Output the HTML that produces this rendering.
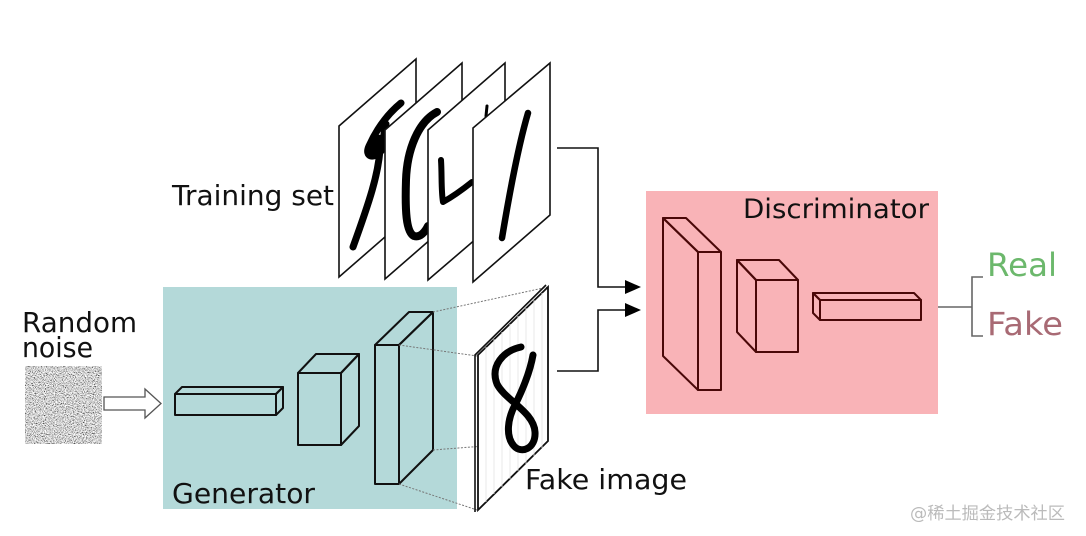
<!DOCTYPE html>
<html>
<head>
<meta charset="utf-8">
<style>
  html,body{margin:0;padding:0;background:#fff;}
  body{width:1086px;height:536px;overflow:hidden;}
  svg{display:block;}
  text{font-family:"DejaVu Sans","Liberation Sans","Noto Sans CJK SC",sans-serif;}
</style>
</head>
<body>
<svg width="1086" height="536" viewBox="0 0 1086 536" xmlns="http://www.w3.org/2000/svg">
  <defs>
    <filter id="noise" x="0" y="0" width="100%" height="100%" filterUnits="objectBoundingBox">
      <feTurbulence type="fractalNoise" baseFrequency="0.9" numOctaves="2" seed="7" result="t"/>
      <feColorMatrix in="t" type="matrix" values="2.4 0 0 0 -0.55  2.4 0 0 0 -0.55  2.4 0 0 0 -0.55  0 0 0 0 1"/>
    </filter>
  </defs>

  <!-- background boxes -->
  <rect x="163" y="287" width="294" height="222" fill="#b4d9d9"/>
  <rect x="646" y="191" width="292" height="223" fill="#f9b3b7"/>

  <!-- Random noise -->
  <text x="22" y="332" font-size="27.5" fill="#111" textLength="115" lengthAdjust="spacingAndGlyphs">Random</text>
  <text x="22" y="357" font-size="27.5" fill="#111" textLength="71" lengthAdjust="spacingAndGlyphs">noise</text>
  <rect x="25" y="366" width="77" height="78" fill="#aaa" filter="url(#noise)"/>

  <!-- hollow arrow -->
  <polygon points="104,397 145,397 145,389 161,403.5 145,418 145,410 104,410" fill="#fff" stroke="#555" stroke-width="1.3"/>

  <!-- Generator blocks -->
  <g fill="none" stroke="#111" stroke-width="2" stroke-linejoin="round">
    <rect x="175" y="394" width="101" height="21"/>
    <polygon points="175,394 182,387 283,387 276,394"/>
    <polygon points="276,394 283,387 283,408 276,415"/>

    <rect x="298" y="373" width="43" height="72"/>
    <polygon points="298,373 316,354 359,354 341,373"/>
    <polygon points="341,373 359,354 359,426 341,445"/>

    <rect x="375" y="345" width="24" height="139"/>
    <polygon points="375,345 409,312 433,312 399,345"/>
    <polygon points="399,345 433,312 433,450 399,484"/>
  </g>

  <!-- dotted projection lines -->
  <g stroke="#777" stroke-width="1" stroke-dasharray="2,1.5" fill="none">
    <line x1="433" y1="312" x2="548" y2="287"/>
    <line x1="399" y1="345" x2="477" y2="356"/>
    <line x1="433" y1="450" x2="548" y2="441"/>
    <line x1="399" y1="484" x2="477" y2="510"/>
  </g>

  <text x="172" y="503" font-size="28" fill="#111" textLength="143" lengthAdjust="spacingAndGlyphs">Generator</text>

  <!-- Fake image panel -->
  <polygon points="478,355 548,287 548,441 478,510" fill="#fff" stroke="#111" stroke-width="1.8"/>
  <g stroke="#e4e4e4" stroke-width="0.8">
    <line x1="486" y1="347" x2="486" y2="502"/>
    <line x1="494" y1="339" x2="494" y2="494"/>
    <line x1="502" y1="332" x2="502" y2="487"/>
    <line x1="510" y1="324" x2="510" y2="479"/>
    <line x1="518" y1="316" x2="518" y2="471"/>
    <line x1="526" y1="308" x2="526" y2="464"/>
    <line x1="534" y1="300" x2="534" y2="456"/>
    <line x1="542" y1="293" x2="542" y2="448"/>
  </g>
  <polyline points="475,512 475,355 546,285" fill="none" stroke="#111" stroke-width="1.6"/>
  <path d="M521 347 C 503 351, 490 366, 497 384 C 505 400, 534 412, 535 432 C 536 449, 521 454, 514 446 C 505 436, 508 418, 515 405 C 522 391, 530 372, 533 355"
        fill="none" stroke="#000" stroke-width="7" stroke-linecap="round" stroke-linejoin="round"/>

  <text x="525" y="489" font-size="27.5" fill="#111" textLength="162" lengthAdjust="spacingAndGlyphs">Fake image</text>

  <!-- Training set panels -->
  <text x="172" y="205" font-size="27.5" fill="#111" textLength="162" lengthAdjust="spacingAndGlyphs">Training set</text>

  <polygon points="339,126 416,59 416,210 339,277" fill="#fff" stroke="#111" stroke-width="1.6"/>
  <path d="M401 103 C 390 112, 378 126, 369 146 C 364 157, 374 160, 382 150 C 384 145, 383 132, 386 124 M 380 150 C 378 175, 370 200, 353 247"
        fill="none" stroke="#000" stroke-width="7" stroke-linecap="round" stroke-linejoin="round"/>
  <ellipse cx="376" cy="147" rx="8" ry="13" fill="#000" transform="rotate(25 376 147)"/>

  <polygon points="385,130 462,63 462,212 385,279" fill="#fff" stroke="#111" stroke-width="1.6"/>
  <path d="M437 112 C 418 122, 407 150, 406 180 C 405 210, 406 232, 414 236 C 420 238, 425 232, 428 226"
        fill="none" stroke="#000" stroke-width="8" stroke-linecap="round" stroke-linejoin="round"/>

  <polygon points="428,130 505,63 505,214 428,280" fill="#fff" stroke="#111" stroke-width="1.6"/>
  <path d="M441 160 C 442 175, 441 190, 443 202 C 452 197, 462 190, 472 182"
        fill="none" stroke="#000" stroke-width="6" stroke-linecap="round" stroke-linejoin="round"/>
  <path d="M487 106 L 486 116" stroke="#000" stroke-width="3" stroke-linecap="round"/>

  <polygon points="473,128 550,63 550,215 473,282" fill="#fff" stroke="#111" stroke-width="1.6"/>
  <path d="M528 113 C 520 140, 510 190, 502 238" fill="none" stroke="#000" stroke-width="6.5" stroke-linecap="round"/>

  <!-- connectors into discriminator -->
  <g fill="none" stroke="#111" stroke-width="1.6">
    <polyline points="557,148 598,148 598,287 628,287"/>
    <polyline points="557,371 598,371 598,310 628,310"/>
  </g>
  <polygon points="625,280 641,287 625,294" fill="#000"/>
  <polygon points="625,303 641,310 625,317" fill="#000"/>

  <!-- Discriminator -->
  <text x="743" y="218" font-size="27" fill="#111" textLength="186" lengthAdjust="spacingAndGlyphs">Discriminator</text>

  <g fill="none" stroke="#4a0808" stroke-width="2" stroke-linejoin="round">
    <rect x="698" y="252" width="23" height="138"/>
    <polygon points="698,252 663,218 686,218 721,252"/>
    <polygon points="698,252 663,218 663,356 698,390"/>

    <rect x="756" y="280" width="42" height="72"/>
    <polygon points="756,280 737,260 779,260 798,280"/>
    <polygon points="756,280 737,260 737,332 756,352"/>

    <rect x="820" y="300" width="101" height="20"/>
    <polygon points="820,300 813,293 914,293 921,300"/>
    <polygon points="820,300 813,293 813,313 820,320"/>
  </g>

  <!-- Real / Fake bracket -->
  <g fill="none" stroke="#666" stroke-width="1.6">
    <line x1="938" y1="307" x2="972" y2="307"/>
    <polyline points="983,277 972,277 972,336 983,336"/>
  </g>
  <text x="987" y="276" font-size="32" fill="#6cb86c" textLength="70" lengthAdjust="spacingAndGlyphs">Real</text>
  <text x="987" y="335" font-size="32" fill="#a86a74" textLength="76" lengthAdjust="spacingAndGlyphs">Fake</text>

  <!-- watermark -->
  <text x="910" y="519" font-size="17" fill="#bbbbbb" textLength="155" lengthAdjust="spacingAndGlyphs" style="font-family:'DejaVu Sans','Noto Sans CJK SC',sans-serif">@稀土掘金技术社区</text>
</svg>
</body>
</html>
